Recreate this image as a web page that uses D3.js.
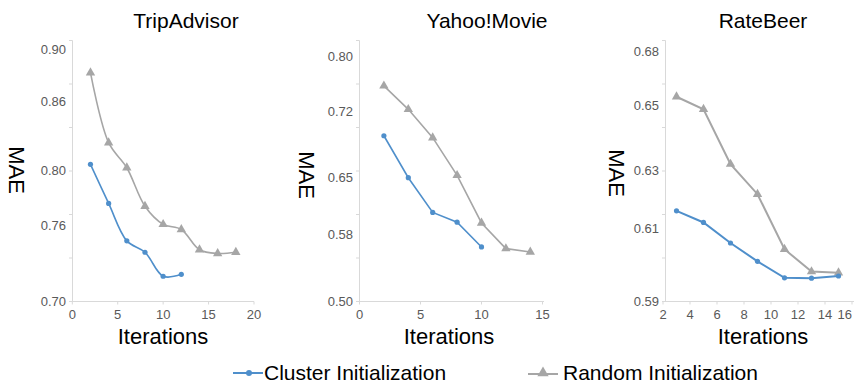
<!DOCTYPE html>
<html>
<head>
<meta charset="utf-8">
<script src="https://d3js.org/d3.v7.min.js"></script>
<style>
body { margin: 0; background: #fff; }
svg { display: block; font-family: "Liberation Sans", Arial, sans-serif; }
.tick-label { fill: #595959; font-size: 13px; }
</style>
</head>
<body>
<div id="svg_container"></div>
<script>
/* -----------------------
data
------------------------- */

var tripClusterIter = [2, 4, 6, 8, 10, 12];
var tripCluster = [0.805, 0.776, 0.748, 0.739, 0.720, 0.7215];
var tripRandomIter = [2, 4, 6, 8, 10, 12, 14, 16, 18];
var tripRandom = [0.882, 0.824, 0.802, 0.774, 0.761, 0.757, 0.741, 0.738, 0.739];

var yahooClusterIter = [2, 4, 6, 8, 10];
var yahooCluster = [0.694, 0.650, 0.607, 0.595, 0.565];
var yahooRandomIter = [2, 4, 6, 8, 10, 12, 14];
var yahooRandom = [0.757, 0.7225, 0.692, 0.6525, 0.594, 0.563, 0.559];

var rateClusterIter = [3, 5, 7, 9, 11, 13, 15];
var rateCluster = [0.616, 0.612, 0.606, 0.601, 0.5965, 0.5964, 0.597];
var rateRandomIter = [3, 5, 7, 9, 11, 13, 15];
var rateRandom = [0.6546, 0.6487, 0.6318, 0.6217, 0.6043, 0.5982, 0.5979];

var tripYTicks = [0.70, 0.76, 0.80, 0.86, 0.90];
var yahooYTicks = [0.50, 0.58, 0.65, 0.72, 0.80];
var rateYTicks = [0.59, 0.61, 0.63, 0.65, 0.68];

var tripXTicks = [0, 5, 10, 15, 20];
var yahooXTicks = [0, 5, 10, 15];
var rateXTicks = [2, 4, 6, 8, 10, 12, 14, 16];

var seriesNames = ["Cluster Initialization", "Random Initialization"];

/* -----------------------
main variables
------------------------- */

var width = 854;
var height = 385;
var blue = "#4f8fcb";
var grey = "#a6a6a6";
var axisColor = "#d9d9d9";

var panels = [
	{title: "TripAdvisor", titleX: 186, maeX: 17, maeY: 170, itX: 163,
	 xDomain: [0, 20], xRange: [72.3, 254], xLine: [72, 254], xTicks: tripXTicks,
	 yTicks: tripYTicks, yRange: [301.5, 225.7, 170, 101.7, 49], axisX: 72,
	 cIter: tripClusterIter, cVal: tripCluster, rIter: tripRandomIter, rVal: tripRandom,
	 curve: d3.curveCatmullRom.alpha(0.5), lw: 1.6},
	{title: "Yahoo!Movie", titleX: 487, maeX: 307, maeY: 175, itX: 449,
	 xDomain: [0, 15], xRange: [359.5, 542.5], xLine: [359, 544], xTicks: yahooXTicks,
	 yTicks: yahooYTicks, yRange: [301.7, 234.3, 177.7, 111, 56.7], axisX: 359,
	 cIter: yahooClusterIter, cVal: yahooCluster, rIter: yahooRandomIter, rVal: yahooRandom,
	 curve: d3.curveLinear, lw: 1.6},
	{title: "RateBeer", titleX: 763, maeX: 617, maeY: 173, itX: 763,
	 xDomain: [2, 16], xRange: [663, 852], xLine: [665, 854], xTicks: rateXTicks,
	 yTicks: rateYTicks, yRange: [301.7, 228.3, 170, 105, 51], axisX: 665,
	 cIter: rateClusterIter, cVal: rateCluster, rIter: rateRandomIter, rVal: rateRandom,
	 curve: d3.curveLinear, lw: 2}
];

/* -----------------------
set plot
------------------------- */

var svg = d3.select("#svg_container")
	.append("svg")
	.attr("width", width)
	.attr("height", height);

var triangle = d3.symbol().type(d3.symbolTriangle).size(38);

panels.forEach(function (p) {

	var x = d3.scaleLinear().domain(p.xDomain).range(p.xRange);
	var y = d3.scaleLinear().domain(p.yTicks).range(p.yRange);
	// evenly spaced tick marks along the value axis
	var frame = d3.scaleLinear().domain([0, 6]).range([301.5, 40.5]);
	var bottom = frame(0);

	var g = svg.append("g").attr("class", "panel");

	// axis lines
	g.append("line")
		.attr("x1", p.axisX + 0.5).attr("x2", p.axisX + 0.5)
		.attr("y1", frame(6)).attr("y2", bottom)
		.attr("stroke", axisColor);
	g.append("line")
		.attr("x1", p.xLine[0]).attr("x2", p.xLine[1])
		.attr("y1", bottom).attr("y2", bottom)
		.attr("stroke", axisColor);

	g.selectAll(".ytickmark")
		.data(d3.range(7))
		.enter()
		.append("line")
		.attr("x1", p.axisX - 3).attr("x2", p.axisX + 0.5)
		.attr("y1", function (d) { return frame(d); })
		.attr("y2", function (d) { return frame(d); })
		.attr("stroke", axisColor);

	g.selectAll(".xtickmark")
		.data(p.xTicks)
		.enter()
		.append("line")
		.attr("x1", function (d) { return x(d); })
		.attr("x2", function (d) { return x(d); })
		.attr("y1", bottom).attr("y2", bottom + 3)
		.attr("stroke", axisColor);

	// tick labels
	g.selectAll(".ylab")
		.data(p.yTicks)
		.enter()
		.append("text")
		.attr("class", "tick-label")
		.attr("x", p.axisX - 6)
		.attr("y", function (d) { return y(d); })
		.attr("dy", "0.35em")
		.attr("text-anchor", "end")
		.text(function (d) { return d3.format(".2f")(d); });

	g.selectAll(".xlab")
		.data(p.xTicks)
		.enter()
		.append("text")
		.attr("class", "tick-label")
		.attr("x", function (d) { return Math.min(x(d), width - 1); })
		.attr("y", 319)
		.attr("text-anchor", function (d) { return x(d) + 7 > width ? "end" : "middle"; })
		.text(function (d) { return d; });

	// titles
	g.append("text")
		.attr("x", p.titleX).attr("y", 28)
		.attr("text-anchor", "middle")
		.attr("font-size", 21)
		.text(p.title);

	g.append("text")
		.attr("transform", "translate(" + p.maeX + "," + p.maeY + ") rotate(90)")
		.attr("text-anchor", "middle")
		.attr("dy", "0.35em")
		.attr("font-size", 22)
		.text("MAE");

	g.append("text")
		.attr("x", p.itX).attr("y", 344)
		.attr("text-anchor", "middle")
		.attr("font-size", 22)
		.text("Iterations");

	// random initialization
	var rData = p.rIter.map(function (d, i) { return [d, p.rVal[i]]; });
	var cData = p.cIter.map(function (d, i) { return [d, p.cVal[i]]; });

	var line = d3.line()
		.x(function (d) { return x(d[0]); })
		.y(function (d) { return y(d[1]); })
		.curve(p.curve);

	g.append("path")
		.datum(rData)
		.attr("d", line)
		.attr("fill", "none")
		.attr("stroke", grey)
		.attr("stroke-width", p.lw);

	g.selectAll(".tri")
		.data(rData)
		.enter()
		.append("path")
		.attr("d", triangle)
		.attr("transform", function (d) { return "translate(" + x(d[0]) + "," + y(d[1]) + ")"; })
		.attr("fill", grey);

	// cluster initialization
	g.append("path")
		.datum(cData)
		.attr("d", line)
		.attr("fill", "none")
		.attr("stroke", blue)
		.attr("stroke-width", p.lw);

	g.selectAll(".dot")
		.data(cData)
		.enter()
		.append("circle")
		.attr("cx", function (d) { return x(d[0]); })
		.attr("cy", function (d) { return y(d[1]); })
		.attr("r", 2.6)
		.attr("fill", blue);
});

/* -----------------------
legend
------------------------- */

var legend = [
	{name: seriesNames[0], color: blue, x: 233, y: 373, textX: 264},
	{name: seriesNames[1], color: grey, x: 528, y: 374, textX: 563}
];

var leg = svg.selectAll(".legend")
	.data(legend)
	.enter()
	.append("g")
	.attr("class", "legend");

leg.append("line")
	.attr("x1", function (d) { return d.x; })
	.attr("x2", function (d) { return d.x + 30; })
	.attr("y1", function (d) { return d.y; })
	.attr("y2", function (d) { return d.y; })
	.attr("stroke", function (d) { return d.color; })
	.attr("stroke-width", 2);

leg.filter(function (d, i) { return i === 0; })
	.append("circle")
	.attr("cx", function (d) { return d.x + 16; })
	.attr("cy", function (d) { return d.y; })
	.attr("r", 3)
	.attr("fill", blue);

leg.filter(function (d, i) { return i === 1; })
	.append("path")
	.attr("d", d3.symbol().type(d3.symbolTriangle).size(55))
	.attr("transform", function (d) { return "translate(" + (d.x + 15) + "," + (d.y - 1) + ")"; })
	.attr("fill", grey);

leg.append("text")
	.attr("x", function (d) { return d.textX; })
	.attr("y", 380)
	.attr("font-size", 21)
	.text(function (d) { return d.name; });
</script>
</body>
</html>
